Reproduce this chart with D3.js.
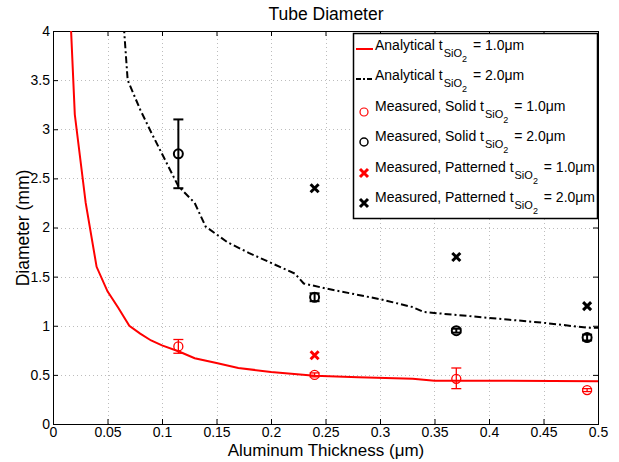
<!DOCTYPE html>
<html>
<head>
<meta charset="utf-8">
<script src="https://cdn.jsdelivr.net/npm/d3@7"></script>
<style>
  body { margin: 0; background: #fff; }
  svg text { font-family: "Liberation Sans", Arial, sans-serif; fill: #000; }
</style>
</head>
<body>
<svg id="chart" width="619" height="462"></svg>
<script>
// analytical curves
const anaX1 = [0.015, 0.02, 0.03, 0.04, 0.05, 0.06, 0.07, 0.08, 0.09, 0.10, 0.115, 0.13, 0.15, 0.17, 0.20, 0.24, 0.28, 0.33, 0.35, 0.40, 0.50];
const anaY1 = [4.4, 3.15, 2.25, 1.6, 1.35, 1.18, 1.0, 0.92, 0.85, 0.80, 0.74, 0.67, 0.62, 0.57, 0.53, 0.49, 0.475, 0.46, 0.44, 0.44, 0.435];
const anaX2 = [0.064, 0.0685, 0.08, 0.09, 0.10, 0.115, 0.13, 0.14, 0.16, 0.18, 0.20, 0.222, 0.23, 0.25, 0.30, 0.33, 0.34, 0.40, 0.45, 0.49, 0.50];
const anaY2 = [4.2, 3.5, 3.2, 2.97, 2.75, 2.42, 2.25, 2.01, 1.85, 1.74, 1.64, 1.53, 1.43, 1.38, 1.27, 1.19, 1.14, 1.08, 1.03, 0.98, 0.98];

// measured, solid
const solidX = [0.115, 0.24, 0.37, 0.49];
const solid1 = [0.79, 0.50, 0.46, 0.345];
const solid1Lo = [0.72, 0.48, 0.36, 0.33];
const solid1Hi = [0.86, 0.52, 0.57, 0.36];
const solid2 = [2.75, 1.29, 0.95, 0.88];
const solid2Lo = [2.40, 1.25, 0.93, 0.85];
const solid2Hi = [3.10, 1.33, 0.97, 0.91];

// measured, patterned
const patX1 = [0.24];
const pat1 = [0.70];
const patX2 = [0.24, 0.37, 0.49];
const pat2 = [2.40, 1.70, 1.20];

const xTicks = [0, 0.05, 0.1, 0.15, 0.2, 0.25, 0.3, 0.35, 0.4, 0.45, 0.5];
const yTicks = [0, 0.5, 1, 1.5, 2, 2.5, 3, 3.5, 4];

const svg = d3.select("#chart");
const mLeft = 53, mRight = 598, mTop = 31, mBottom = 424;

const x = d3.scaleLinear().domain([0, 0.5]).range([mLeft, mRight]);
const y = d3.scaleLinear().domain([0, 4]).range([mBottom, mTop]);

svg.append("clipPath").attr("id", "plotclip")
  .append("rect").attr("x", mLeft).attr("y", mTop).attr("width", mRight - mLeft).attr("height", mBottom - mTop);

// grid
const grid = svg.append("g");
grid.selectAll("line.gx").data(xTicks.slice(1, -1)).enter().append("line")
  .attr("x1", d => Math.round(x(d)) + 0.5).attr("x2", d => Math.round(x(d)) + 0.5).attr("y1", mTop).attr("y2", mBottom)
  .attr("stroke", "#bdbdbd").attr("stroke-dasharray", "1,3");
grid.selectAll("line.gy").data(yTicks.slice(1, -1)).enter().append("line")
  .attr("y1", d => Math.round(y(d)) + 0.5).attr("y2", d => Math.round(y(d)) + 0.5).attr("x1", mLeft).attr("x2", mRight)
  .attr("stroke", "#bdbdbd").attr("stroke-dasharray", "1,3");

// axes
const fmt = d => d3.format("")(d);
const axB = svg.append("g").attr("transform", "translate(0," + mBottom + ")")
  .call(d3.axisBottom(x).tickValues(xTicks).tickSize(-5).tickPadding(3).tickFormat(fmt));
const axL = svg.append("g").attr("transform", "translate(" + mLeft + ",0)")
  .call(d3.axisLeft(y).tickValues(yTicks).tickSize(-5).tickPadding(3).tickFormat(fmt));
const axT = svg.append("g").attr("transform", "translate(0," + mTop + ")")
  .call(d3.axisTop(x).tickValues(xTicks).tickSize(-5).tickFormat(""));
const axR = svg.append("g").attr("transform", "translate(" + mRight + ",0)")
  .call(d3.axisRight(y).tickValues(yTicks).tickSize(-5).tickFormat(""));
[axB, axL, axT, axR].forEach(a => {
  a.select(".domain").remove();
  a.selectAll(".tick line").attr("stroke", "#000");
  a.selectAll(".tick text").style("font-size", "14px").style("font-family", "Liberation Sans, Arial, sans-serif");
});
svg.append("rect").attr("x", mLeft + 0.5).attr("y", mTop + 0.5).attr("width", mRight - mLeft).attr("height", mBottom - mTop)
  .attr("fill", "none").attr("stroke", "#000");

// curves
const line = d3.line().x(d => x(d[0])).y(d => y(d[1]));
const plot = svg.append("g").attr("clip-path", "url(#plotclip)");
plot.append("path").datum(d3.zip(anaX1, anaY1)).attr("d", line)
  .attr("fill", "none").attr("stroke", "#ff0000").attr("stroke-width", 2);
plot.append("path").datum(d3.zip(anaX2, anaY2)).attr("d", line)
  .attr("fill", "none").attr("stroke", "#000").attr("stroke-width", 2).attr("stroke-dasharray", "7,3,2,3");

// error bars + circles
function errbars(xs, ys, lo, hi, color, w) {
  const g = svg.append("g");
  xs.forEach((xv, i) => {
    const cx = x(xv);
    g.append("line").attr("x1", cx).attr("x2", cx).attr("y1", y(lo[i])).attr("y2", y(hi[i]))
      .attr("stroke", color).attr("stroke-width", w);
    [lo[i], hi[i]].forEach(v => {
      g.append("line").attr("x1", cx - 5).attr("x2", cx + 5).attr("y1", y(v)).attr("y2", y(v))
        .attr("stroke", color).attr("stroke-width", w);
    });
    g.append("circle").attr("cx", cx).attr("cy", y(ys[i])).attr("r", 4.5)
      .attr("fill", "none").attr("stroke", color).attr("stroke-width", w);
  });
}
errbars(solidX, solid1, solid1Lo, solid1Hi, "#ff0000", 1.3);
errbars(solidX, solid2, solid2Lo, solid2Hi, "#000", 2);

function cross(g, cx, cy, color) {
  const s = 4;
  g.append("path").attr("d", `M${cx - s},${cy - s}L${cx + s},${cy + s}M${cx - s},${cy + s}L${cx + s},${cy - s}`)
    .attr("stroke", color).attr("stroke-width", 3).attr("fill", "none");
}
const crosses = svg.append("g");
patX1.forEach((xv, i) => cross(crosses, x(xv), y(pat1[i]), "#ff0000"));
patX2.forEach((xv, i) => cross(crosses, x(xv), y(pat2[i]), "#000"));

// titles
svg.append("text").attr("x", 326).attr("y", 20).attr("text-anchor", "middle").style("font-size", "17.5px").text("Tube Diameter");
svg.append("text").attr("x", 326).attr("y", 456).attr("text-anchor", "middle").style("font-size", "17px").text("Aluminum Thickness (\u03bcm)");
svg.append("text").attr("transform", "translate(29,228) rotate(-90)").attr("text-anchor", "middle").style("font-size", "17.5px").text("Diameter (mm)");

// legend
const leg = svg.append("g");
leg.append("rect").attr("x", 353.5).attr("y", 33.5).attr("width", 244).attr("height", 185)
  .attr("fill", "#fff").attr("stroke", "#000").attr("stroke-width", 1.5);
const legItems = [
  {pre: "Analytical t", post: " = 1.0\u03bcm", kind: "line", color: "#ff0000"},
  {pre: "Analytical t", post: " = 2.0\u03bcm", kind: "dash", color: "#000"},
  {pre: "Measured, Solid t", post: " = 1.0\u03bcm", kind: "circle", color: "#ff0000"},
  {pre: "Measured, Solid t", post: " = 2.0\u03bcm", kind: "circle", color: "#000"},
  {pre: "Measured, Patterned t", post: " = 1.0\u03bcm", kind: "cross", color: "#ff0000"},
  {pre: "Measured, Patterned t", post: " = 2.0\u03bcm", kind: "cross", color: "#000"}
];
const legY = [46, 76, 107, 137, 168, 198];
legItems.forEach((it, i) => {
  const yy = legY[i];
  const my = i < 2 ? yy + 3 : yy + 5;
  if (it.kind === "line") {
    leg.append("line").attr("x1", 356).attr("x2", 373).attr("y1", my).attr("y2", my).attr("stroke", it.color).attr("stroke-width", 2);
  } else if (it.kind === "dash") {
    leg.append("line").attr("x1", 356).attr("x2", 373).attr("y1", my).attr("y2", my).attr("stroke", it.color).attr("stroke-width", 2).attr("stroke-dasharray", "5,2,2,2");
  } else if (it.kind === "circle") {
    leg.append("circle").attr("cx", 364).attr("cy", my).attr("r", 4).attr("fill", "none").attr("stroke", it.color).attr("stroke-width", i === 2 ? 1.2 : 1.5);
  } else {
    cross(leg, 364, my, it.color);
  }
  const t = leg.append("text").attr("x", 375).attr("y", yy + 4).style("font-size", "14px");
  t.append("tspan").text(it.pre);
  t.append("tspan").attr("dy", 7).attr("dx", 1).style("font-size", "11px").text("SiO");
  t.append("tspan").attr("dy", 5).style("font-size", "9px").text("2");
  t.append("tspan").attr("dy", -12).attr("dx", 2).text(it.post);
});
</script>
</body>
</html>
